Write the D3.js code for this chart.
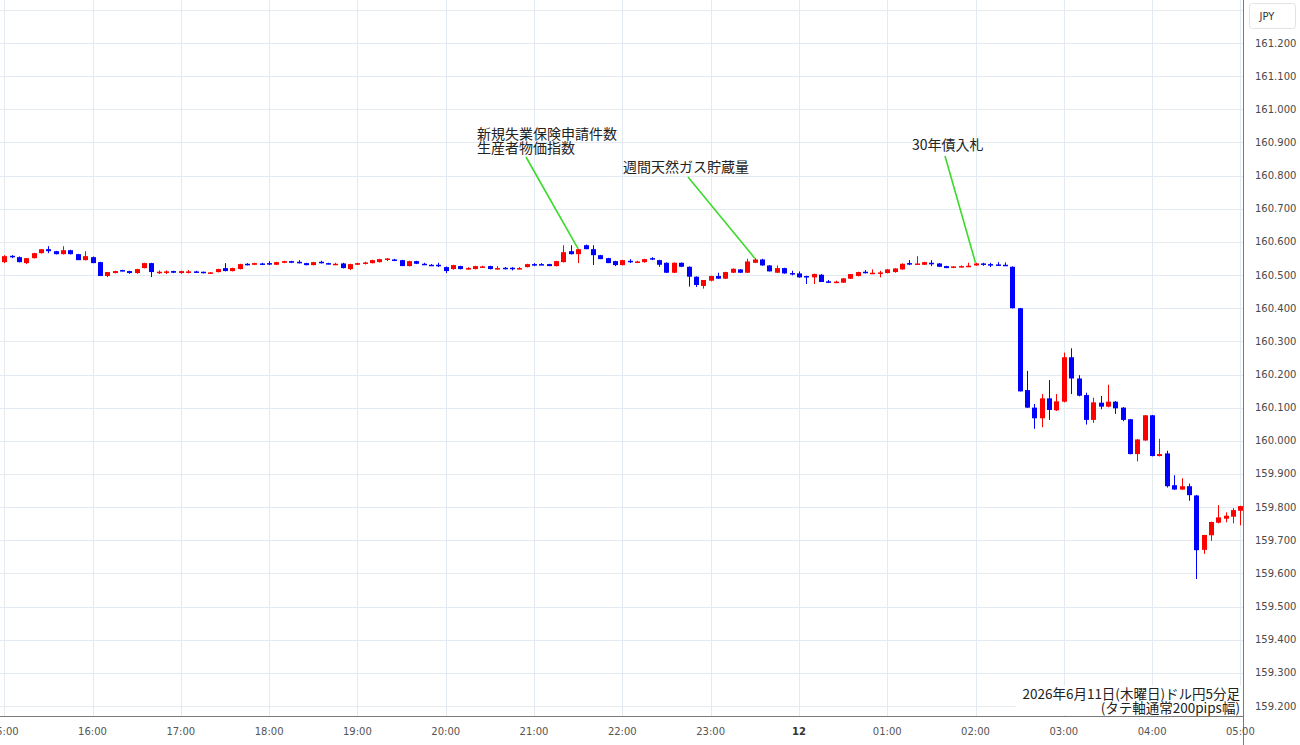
<!DOCTYPE html>
<html>
<head>
<meta charset="utf-8">
<script src="https://cdn.jsdelivr.net/npm/d3@7"></script>
<style>
body{margin:0;background:#fff;}
svg{display:block;font-family:"DejaVu Sans",sans-serif;}
</style>
</head>
<body>
<svg id="chart" width="1300" height="745"></svg>
<script>
// USD/JPY 5 minute candles, 2026-06-11 15:00 -> 2026-06-12 05:05
const startTime = new Date(2026, 5, 11, 15, 0);
const stepMinutes = 5;

const open = [
160.539,160.558,160.554,160.536,160.551,160.566,160.578,160.572,160.563,160.575,
160.563,160.545,160.554,160.539,160.497,160.506,160.515,160.512,160.506,160.521,
160.536,160.508,160.509,160.512,160.506,160.510,160.511,160.510,160.506,160.509,
160.521,160.512,160.518,160.534,160.531,160.535,160.536,160.531,160.537,160.542,
160.540,160.536,160.530,160.540,160.536,160.532,160.535,160.518,160.531,160.535,
160.536,160.539,160.548,160.547,160.545,160.527,160.542,160.534,160.531,160.531,
160.524,160.518,160.527,160.519,160.518,160.524,160.527,160.519,160.522,160.522,
160.519,160.524,160.533,160.533,160.533,160.527,160.539,160.572,160.563,160.590,
160.578,160.560,160.551,160.542,160.530,160.543,160.540,160.539,160.551,160.545,
160.537,160.507,160.537,160.525,160.495,160.467,160.483,160.497,160.489,160.507,
160.517,160.507,160.537,160.547,160.529,160.507,160.521,160.506,160.505,160.497,
160.493,160.501,160.481,160.478,160.477,160.489,160.497,160.510,160.505,160.506,
160.506,160.509,160.517,160.536,160.532,160.531,160.537,160.535,160.527,160.522,
160.525,160.526,160.529,160.535,160.533,160.532,160.531,160.525,160.400,160.153,
160.100,160.068,160.128,160.092,160.118,160.252,160.188,160.138,160.063,160.115,
160.103,160.118,160.100,160.065,159.960,160.001,160.077,159.954,159.962,159.866,
159.853,159.863,159.835,159.671,159.715,159.753,159.765,159.771,159.789,159.801];

const high = [
160.560,160.560,160.556,160.551,160.567,160.578,160.587,160.573,160.587,160.576,
160.564,160.572,160.556,160.540,160.509,160.513,160.516,160.513,160.519,160.537,
160.537,160.514,160.514,160.513,160.513,160.515,160.513,160.510,160.509,160.519,
160.536,160.522,160.534,160.536,160.537,160.537,160.542,160.540,160.543,160.543,
160.545,160.537,160.540,160.543,160.537,160.537,160.537,160.534,160.537,160.540,
160.546,160.549,160.551,160.549,160.546,160.543,160.543,160.537,160.533,160.537,
160.526,160.531,160.528,160.524,160.528,160.528,160.528,160.527,160.524,160.524,
160.524,160.534,160.536,160.536,160.534,160.543,160.590,160.590,160.579,160.592,
160.590,160.561,160.552,160.543,160.546,160.548,160.543,160.549,160.554,160.546,
160.538,160.538,160.538,160.526,160.496,160.485,160.498,160.507,160.510,160.520,
160.518,160.549,160.551,160.549,160.530,160.529,160.522,160.513,160.511,160.498,
160.504,160.503,160.485,160.483,160.491,160.503,160.510,160.515,160.517,160.513,
160.518,160.521,160.535,160.545,160.557,160.540,160.545,160.536,160.528,160.527,
160.529,160.537,160.537,160.537,160.537,160.539,160.538,160.526,160.401,160.211,
160.111,160.141,160.183,160.141,160.266,160.279,160.198,160.145,160.130,160.135,
160.169,160.120,160.102,160.066,160.005,160.078,160.078,160.006,159.970,159.896,
159.887,159.871,159.837,159.716,159.756,159.806,159.784,159.797,159.804,159.820];

const low = [
160.536,160.551,160.538,160.533,160.550,160.565,160.566,160.562,160.562,160.562,
160.545,160.544,160.536,160.497,160.494,160.505,160.511,160.504,160.504,160.520,
160.494,160.503,160.503,160.506,160.504,160.505,160.507,160.505,160.504,160.508,
160.511,160.511,160.517,160.529,160.530,160.530,160.530,160.530,160.536,160.536,
160.535,160.529,160.529,160.535,160.532,160.530,160.520,160.515,160.530,160.532,
160.535,160.538,160.542,160.542,160.527,160.526,160.533,160.530,160.529,160.524,
160.506,160.516,160.517,160.517,160.517,160.522,160.517,160.517,160.517,160.514,
160.517,160.523,160.527,160.530,160.527,160.526,160.538,160.562,160.536,160.578,
160.530,160.548,160.536,160.527,160.529,160.536,160.536,160.537,160.545,160.525,
160.506,160.506,160.524,160.465,160.464,160.459,160.481,160.488,160.488,160.506,
160.506,160.506,160.536,160.528,160.511,160.506,160.504,160.499,160.492,160.473,
160.473,160.479,160.476,160.476,160.476,160.488,160.496,160.505,160.503,160.493,
160.505,160.507,160.516,160.530,160.531,160.530,160.527,160.524,160.521,160.521,
160.523,160.524,160.528,160.528,160.524,160.528,160.529,160.399,160.149,160.099,
160.036,160.041,160.063,160.090,160.116,160.141,160.134,160.049,160.054,160.095,
160.101,160.081,160.059,159.959,159.938,160.000,159.953,159.953,159.859,159.852,
159.852,159.819,159.583,159.659,159.698,159.751,159.754,159.751,159.745,159.800];

const close = [
160.557,160.556,160.539,160.551,160.566,160.578,160.572,160.563,160.575,160.563,
160.545,160.557,160.536,160.497,160.509,160.512,160.512,160.506,160.518,160.536,
160.509,160.510,160.511,160.507,160.512,160.511,160.509,160.506,160.508,160.518,
160.512,160.521,160.533,160.532,160.536,160.533,160.533,160.539,160.542,160.537,
160.537,160.530,160.539,160.537,160.533,160.534,160.521,160.533,160.536,160.538,
160.545,160.548,160.550,160.545,160.527,160.542,160.534,160.532,160.530,160.529,
160.512,160.530,160.518,160.521,160.527,160.526,160.518,160.521,160.520,160.520,
160.521,160.533,160.531,160.532,160.527,160.542,160.569,160.563,160.578,160.578,
160.560,160.548,160.536,160.530,160.545,160.540,160.541,160.548,160.548,160.531,
160.507,160.537,160.525,160.495,160.470,160.485,160.497,160.489,160.509,160.519,
160.507,160.541,160.547,160.529,160.511,160.521,160.505,160.504,160.493,160.494,
160.503,160.479,160.479,160.480,160.490,160.503,160.509,160.508,160.507,160.508,
160.517,160.520,160.534,160.532,160.535,160.539,160.534,160.525,160.521,160.526,
160.527,160.528,160.535,160.532,160.530,160.530,160.530,160.400,160.149,160.100,
160.068,160.128,160.093,160.119,160.252,160.188,160.136,160.063,160.116,160.103,
160.118,160.098,160.063,159.960,160.004,160.077,159.954,159.960,159.863,159.853,
159.863,159.836,159.670,159.716,159.755,159.769,159.774,159.791,159.803,159.817];

// economic events (label lines, candle they point at)
const eventLabels = [["新規失業保険申請件数", "生産者物価指数"], ["週間天然ガス貯蔵量"], ["30年債入札"]];
const eventCandle = [78, 102, 132];

const yTickMin = 159.2, yTickMax = 161.2;
const titleLines = ["2026年6月11日(木曜日)ドル円5分足", "(タテ軸通常200pips幅)"];
const currency = "JPY";

let candles = open.map((o, i) => ({
  t: new Date(startTime.getTime() + i * stepMinutes * 60000),
  o: o, h: high[i], l: low[i], c: close[i]
}));

let svg = d3.select("#chart");
let plotW = 1243, plotH = 716;

let x = d3.scaleTime()
  .domain([new Date(2026, 5, 11, 15, 0), new Date(2026, 5, 12, 5, 0)])
  .range([4.2, 1240.4]);
let y = d3.scaleLinear().domain([yTickMin, yTickMax]).range([706, 43]);

svg.append("defs").append("clipPath").attr("id", "plotClip")
  .append("rect").attr("x", 0).attr("y", 0).attr("width", plotW).attr("height", plotH);

// grid
let hours = x.ticks(d3.timeHour.every(1));
let grid = svg.append("g");
grid.selectAll("line.v").data(hours).enter().append("line")
  .attr("x1", d => Math.round(x(d)) + 0.5).attr("x2", d => Math.round(x(d)) + 0.5)
  .attr("y1", 0).attr("y2", plotH)
  .attr("stroke", "#e3eaf1").attr("stroke-width", 1);

let yTicks = d3.range(0, 22).map(k => +(yTickMin + k * 0.1).toFixed(1));
grid.selectAll("line.h").data(yTicks).enter().append("line")
  .attr("x1", 0).attr("x2", plotW)
  .attr("y1", d => Math.round(y(d)) + 0.5).attr("y2", d => Math.round(y(d)) + 0.5)
  .attr("stroke", "#e3eaf1").attr("stroke-width", 1);

// candles
let cg = svg.append("g").attr("clip-path", "url(#plotClip)");
let col = d => d.c >= d.o ? "#ff0000" : "#0000ff";

let bar = cg.selectAll("g.candle").data(candles).enter().append("g");
bar.append("line")
  .attr("x1", d => Math.round(x(d.t)) + 0.5).attr("x2", d => Math.round(x(d.t)) + 0.5)
  .attr("y1", d => y(d.h)).attr("y2", d => y(d.l))
  .attr("stroke", col).attr("stroke-width", 1);
bar.append("rect")
  .attr("x", d => Math.round(x(d.t)) - 2)
  .attr("width", 5)
  .attr("y", d => Math.min(y(d.o), y(d.c)))
  .attr("height", d => Math.max(1.5, Math.abs(y(d.o) - y(d.c))))
  .attr("fill", col);

// annotations
let textStart = [[477, 139], [623, 172], [912, 150]];
let lineStart = [[526, 157], [688, 177], [945, 156]];
eventLabels.forEach((lines, k) => {
  let d = candles[eventCandle[k]];
  svg.append("line")
    .attr("x1", lineStart[k][0]).attr("y1", lineStart[k][1])
    .attr("x2", x(d.t)).attr("y2", y(d.h))
    .attr("stroke", "#3adb2a").attr("stroke-width", 1.6);
  lines.forEach((s, j) => {
    svg.append("text")
      .attr("x", textStart[k][0]).attr("y", textStart[k][1] + j * 14)
      .attr("font-family", "'Noto Sans CJK JP', sans-serif")
      .attr("font-size", 14).attr("fill", "#222")
      .text(s);
  });
});

// title box bottom right
let tb = svg.append("g");
tb.append("rect").attr("x", 1016).attr("y", 686).attr("width", 226).attr("height", 29).attr("fill", "#fff");
titleLines.forEach((s, j) => {
  tb.append("text")
    .attr("x", 1240).attr("y", 699 + j * 13.5)
    .attr("text-anchor", "end")
    .attr("font-family", "'Noto Sans CJK JP', sans-serif")
    .attr("font-size", 13.5).attr("fill", "#222")
    .text(s);
});

// axes frame
svg.append("rect").attr("x", plotW + 1).attr("y", 0).attr("width", 1300 - plotW).attr("height", 745).attr("fill", "#fff");
svg.append("rect").attr("x", 0).attr("y", plotH + 1).attr("width", plotW).attr("height", 745 - plotH).attr("fill", "#fff");
svg.append("line").attr("x1", 0).attr("x2", plotW + 0.5).attr("y1", plotH + 0.5).attr("y2", plotH + 0.5)
  .attr("stroke", "#7a7a7a").attr("stroke-width", 1);
svg.append("line").attr("x1", plotW + 0.5).attr("x2", plotW + 0.5).attr("y1", 0).attr("y2", 745)
  .attr("stroke", "#7a7a7a").attr("stroke-width", 1);

// y labels
svg.append("g").selectAll("text").data(yTicks.filter(v => v <= yTickMax + 1e-9)).enter().append("text")
  .attr("x", 1255).attr("y", d => y(d) + 3.5)
  .attr("font-size", 10).attr("fill", "#4a4a4a")
  .text(d => d3.format(".3f")(d));

// currency box
svg.append("rect").attr("x", 1249.5).attr("y", 3.5).attr("width", 46).attr("height", 25).attr("rx", 3)
  .attr("fill", "#fff").attr("stroke", "#e2e2e2");
svg.append("text").attr("x", 1267).attr("y", 20).attr("text-anchor", "middle")
  .attr("font-size", 10).attr("fill", "#333").text(currency);

// x labels
let fmt = d => d.getHours() === 0 ? d3.timeFormat("%-d")(d) : d3.timeFormat("%H:%M")(d);
svg.append("g").selectAll("text").data(hours).enter().append("text")
  .attr("x", d => x(d)).attr("y", 735)
  .attr("text-anchor", "middle")
  .attr("font-size", 10)
  .attr("font-weight", d => d.getHours() === 0 ? "bold" : "normal")
  .attr("fill", d => d.getHours() === 0 ? "#333" : "#555")
  .text(fmt);
</script>
</body>
</html>
